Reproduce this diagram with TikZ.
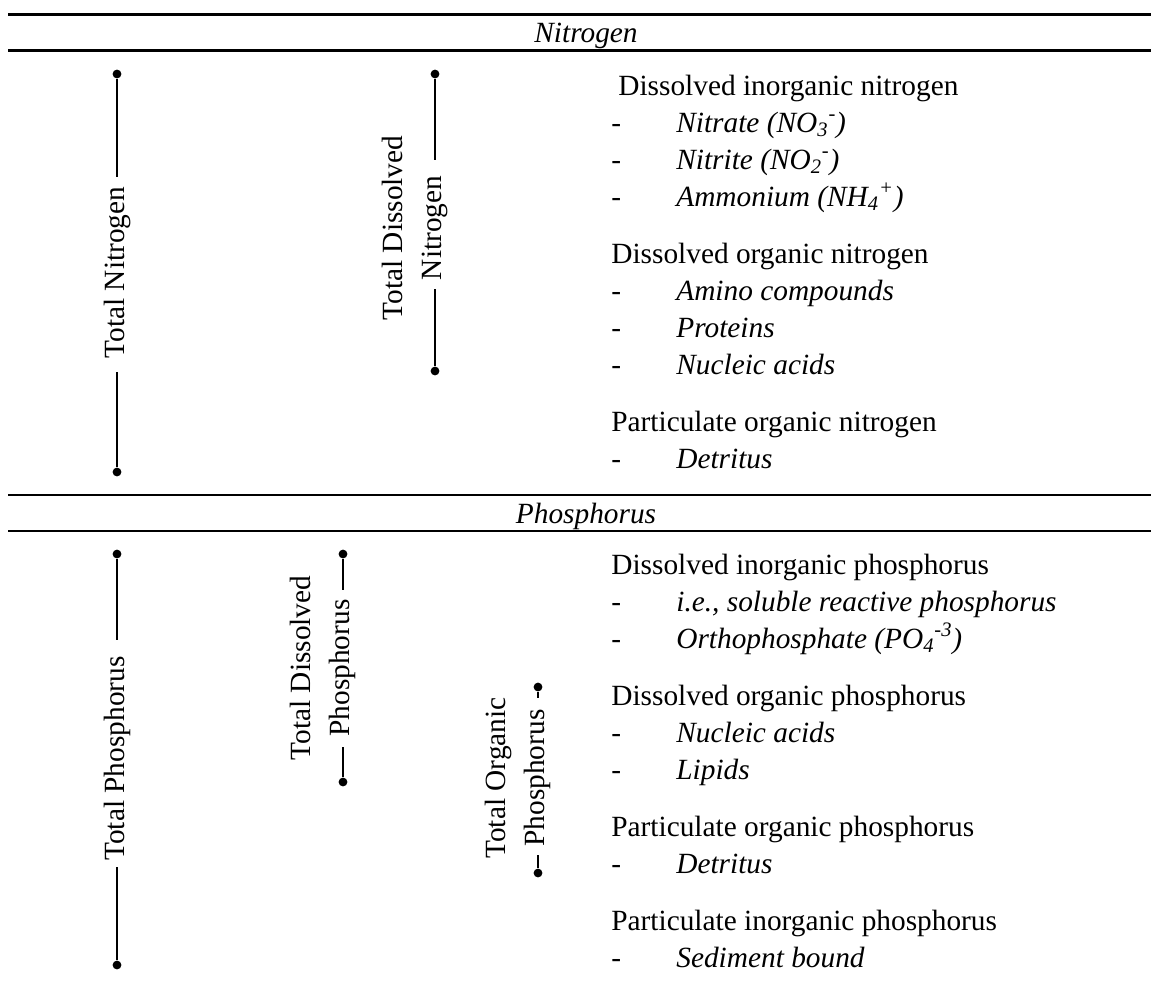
\documentclass[tikz,border=0pt]{standalone}
\usepackage{fontspec}
\setmainfont{Liberation Serif}
\usetikzlibrary{positioning}

\newcommand{\bodysize}{\fontsize{16.7pt}{22pt}\selectfont}

\tikzset{
  hrule/.style={line width=1.6pt},
  bracket/.style={line width=0.85pt},
  enddot/.style={circle, fill, inner sep=0pt, minimum size=5pt},
  vlabel/.style={rotate=90, inner sep=0pt, align=center},
  heading/.style={anchor=base, inner sep=0pt, font=\bodysize\itshape},
  group/.style={anchor=base west, inner sep=0pt},
  hyph/.style={anchor=base west, inner sep=0pt},
  member/.style={anchor=base west, inner sep=0pt, font=\bodysize\itshape}
}

\begin{document}
\begin{tikzpicture}[x=0.02cm, y=-0.02cm, font=\bodysize]
  \useasboundingbox (0,0) rectangle (1151,980);

  % nitrogen heading
  \draw[hrule] (8,14.5)--(1151,14.5);
  \node[heading] (nitro) at (586,43){Nitrogen};
  \draw[hrule] (8,50.5)--(1151,50.5);

  % total nitrogen
  \node[enddot] (tn-top) at (117,74){};
  \node[enddot] (tn-bot) at (117,472){};
  \coordinate (tn-a) at (117,177);
  \coordinate (tn-b) at (117,372);
  \node[vlabel] (tn) at (117,272.5){Total Nitrogen};
  \draw[bracket] (tn-top)--(tn-a);
  \draw[bracket] (tn-b)--(tn-bot);

  % total dissolved nitrogen
  \node[enddot] (tdn-top) at (435,74){};
  \node[enddot] (tdn-bot) at (435,371){};
  \coordinate (tdn-a) at (435,160);
  \coordinate (tdn-b) at (435,289);
  \node[vlabel, anchor=south] (tdn) at (448,228){Total Dissolved\\Nitrogen};
  \draw[bracket] (tdn-top)--(tdn-a);
  \draw[bracket] (tdn-b)--(tdn-bot);

  % nitrogen forms
  \node[group] (din) at (618,95){Dissolved inorganic nitrogen};
  \node[hyph] (din-h1) at (611,132){-};
  \node[member] (din-1) at (676,132){Nitrate (NO\textsubscript{3}\textsuperscript{-})};
  \node[hyph] (din-h2) at (611,169){-};
  \node[member] (din-2) at (676,169){Nitrite (NO\textsubscript{2}\textsuperscript{-})};
  \node[hyph] (din-h3) at (611,206){-};
  \node[member] (din-3) at (676,206){Ammonium (NH\textsubscript{4}\textsuperscript{+})};

  \node[group] (don) at (611,263){Dissolved organic nitrogen};
  \node[hyph] (don-h1) at (611,300){-};
  \node[member] (don-1) at (676,300){Amino compounds};
  \node[hyph] (don-h2) at (611,337){-};
  \node[member] (don-2) at (676,337){Proteins};
  \node[hyph] (don-h3) at (611,374){-};
  \node[member] (don-3) at (676,374){Nucleic acids};

  \node[group] (pon) at (611,431){Particulate organic nitrogen};
  \node[hyph] (pon-h1) at (611,468){-};
  \node[member] (pon-1) at (676,468){Detritus};

  % phosphorus heading
  \draw[hrule] (8,495)--(1151,495);
  \node[heading] (phos) at (586,523.5){Phosphorus};
  \draw[hrule] (8,531)--(1151,531);

  % total phosphorus
  \node[enddot] (tp-top) at (117,554){};
  \node[enddot] (tp-bot) at (117,965){};
  \coordinate (tp-a) at (117,640);
  \coordinate (tp-b) at (117,867);
  \node[vlabel] (tp) at (117,758.5){Total Phosphorus};
  \draw[bracket] (tp-top)--(tp-a);
  \draw[bracket] (tp-b)--(tp-bot);

  % total dissolved phosphorus
  \node[enddot] (tdp-top) at (343,554){};
  \node[enddot] (tdp-bot) at (343,782){};
  \coordinate (tdp-a) at (343,590);
  \coordinate (tdp-b) at (343,747);
  \node[vlabel, anchor=south] (tdp) at (356,668){Total Dissolved\\Phosphorus};
  \draw[bracket] (tdp-top)--(tdp-a);
  \draw[bracket] (tdp-b)--(tdp-bot);

  % total organic phosphorus
  \node[enddot] (top-top) at (538,687){};
  \node[enddot] (top-bot) at (538,873){};
  \coordinate (top-a) at (538,698);
  \coordinate (top-b) at (538,855);
  \node[vlabel, anchor=south] (top) at (551,778){Total Organic\\Phosphorus};
  \draw[bracket] (top-top)--(top-a);
  \draw[bracket] (top-b)--(top-bot);

  % phosphorus forms
  \node[group] (dip) at (611,574){Dissolved inorganic phosphorus};
  \node[hyph] (dip-h1) at (611,611){-};
  \node[member] (dip-1) at (676,611){i.e., soluble reactive phosphorus};
  \node[hyph] (dip-h2) at (611,648){-};
  \node[member] (dip-2) at (676,648){Orthophosphate (PO\textsubscript{4}\textsuperscript{-3})};

  \node[group] (dop) at (611,705){Dissolved organic phosphorus};
  \node[hyph] (dop-h1) at (611,742){-};
  \node[member] (dop-1) at (676,742){Nucleic acids};
  \node[hyph] (dop-h2) at (611,779){-};
  \node[member] (dop-2) at (676,779){Lipids};

  \node[group] (pop) at (611,836){Particulate organic phosphorus};
  \node[hyph] (pop-h1) at (611,873){-};
  \node[member] (pop-1) at (676,873){Detritus};

  \node[group] (pip) at (611,930){Particulate inorganic phosphorus};
  \node[hyph] (pip-h1) at (611,967){-};
  \node[member] (pip-1) at (676,967){Sediment bound};
\end{tikzpicture}
\end{document}
